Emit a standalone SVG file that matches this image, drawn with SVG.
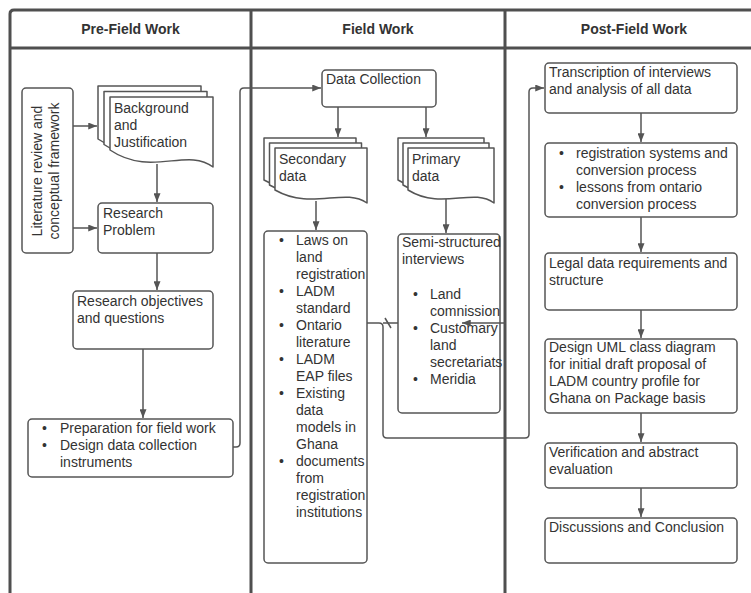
<svg xmlns="http://www.w3.org/2000/svg" width="751" height="593" viewBox="0 0 751 593">
<defs>
<style>
.lane{fill:none;stroke:#4f4f4f;stroke-width:3}
.box{fill:#fff;stroke:#555;stroke-width:1.5}
.doc{fill:#fff;stroke:#555;stroke-width:1.5;stroke-linejoin:round}
.t{font-family:"Liberation Sans",Arial,sans-serif;font-size:14px;fill:#333}
.h{font-family:"Liberation Sans",Arial,sans-serif;font-size:14px;font-weight:bold;fill:#333}
.c{fill:none;stroke:#555;stroke-width:1.5;stroke-linejoin:round}
</style>
<marker id="ah" viewBox="0 0 10 8" markerWidth="9" markerHeight="7" refX="10" refY="4" orient="auto" markerUnits="userSpaceOnUse">
<path d="M0,0 L10,4 L0,8 Z" fill="#555"/>
</marker>
</defs>
<rect width="751" height="593" fill="#fff"/>
<g id="lanes">
<path class="lane" d="M10,593 V14 Q10,10 14,10 H751"/>
<path class="lane" d="M10,48 H751"/>
<path class="lane" d="M251,10 V593"/>
<path class="lane" d="M505,10 V593"/>
<text class="h" x="130.5" y="34" text-anchor="middle">Pre-Field Work</text>
<text class="h" x="378" y="34" text-anchor="middle">Field Work</text>
<text class="h" x="634" y="34" text-anchor="middle">Post-Field Work</text>
</g>
<g id="connectors">
<path class="c" d="M73,126 H97" marker-end="url(#ah)"/>
<path class="c" d="M73,228 H97" marker-end="url(#ah)"/>
<path class="c" d="M157,164 V202" marker-end="url(#ah)"/>
<path class="c" d="M157,253 V290" marker-end="url(#ah)"/>
<path class="c" d="M143,349 V418" marker-end="url(#ah)"/>
<path class="c" d="M233,447 H236 Q240,447 240,443 V92 Q240,88 244,88 H321" marker-end="url(#ah)"/>
<path class="c" d="M338,107 V137" marker-end="url(#ah)"/>
<path class="c" d="M426,107 V137" marker-end="url(#ah)"/>
<path class="c" d="M316,201 V230" marker-end="url(#ah)"/>
<path class="c" d="M446,199 V233" marker-end="url(#ah)"/>
<path class="c" d="M367,323 H379 Q383,323 383,327 V434 Q383,438 387,438 H525 Q529,438 529,434 V92 Q529,88 533,88 H544" marker-end="url(#ah)"/>
<path class="c" d="M383,323 H398"/>
<path class="c" d="M385,318 L391,328"/>
<path class="c" d="M641,113 V142" marker-end="url(#ah)"/>
<path class="c" d="M641,217 V252" marker-end="url(#ah)"/>
<path class="c" d="M641,310 V338" marker-end="url(#ah)"/>
<path class="c" d="M641,413 V442" marker-end="url(#ah)"/>
<path class="c" d="M641,488 V517" marker-end="url(#ah)"/>
</g>
<g id="literature">
<rect class="box" x="22" y="88" width="51" height="165" rx="4"/>
<text class="t" transform="translate(42,171) rotate(-90)" text-anchor="middle">Literature review and</text>
<text class="t" transform="translate(59,171) rotate(-90)" text-anchor="middle">conceptual framework</text>
</g>
<g id="background">
<path class="doc" d="M98,86 H201 V156 C175,136 139,166.5 98,139 Z"/>
<path class="doc" d="M104,91.5 H207 V161.5 C181,141.5 145,172 104,144.5 Z"/>
<path class="doc" d="M110,97 H213 V167 C187,147 151,177.5 110,150 Z"/>
<text class="t" x="114" y="113">Background</text>
<text class="t" x="114" y="130">and</text>
<text class="t" x="114" y="147">Justification</text>
</g>
<g id="research-problem">
<rect class="box" x="98" y="203" width="115" height="50" rx="4"/>
<text class="t" x="103" y="218">Research</text>
<text class="t" x="103" y="235">Problem</text>
</g>
<g id="objectives">
<rect class="box" x="73" y="291" width="140" height="58" rx="4"/>
<text class="t" x="77" y="306">Research objectives</text>
<text class="t" x="77" y="323">and questions</text>
</g>
<g id="preparation">
<rect class="box" x="28" y="419" width="205" height="58" rx="4"/>
<text class="t" x="42" y="433">•</text>
<text class="t" x="60" y="433">Preparation for field work</text>
<text class="t" x="42" y="450">•</text>
<text class="t" x="60" y="450">Design data collection</text>
<text class="t" x="60" y="467">instruments</text>
</g>
<g id="data-collection">
<rect class="box" x="322" y="70" width="114" height="37" rx="4"/>
<text class="t" x="326" y="84">Data Collection</text>
</g>
<g id="secondary-data">
<path class="doc" d="M264,138 H356 V193 C333,177 301,201 264,180 Z"/>
<path class="doc" d="M269.5,143 H361.5 V198 C338.5,182 306.5,206 269.5,185 Z"/>
<path class="doc" d="M275,148 H367 V203 C344,187 312,211 275,190 Z"/>
<text class="t" x="279" y="164">Secondary</text>
<text class="t" x="279" y="181">data</text>
</g>
<g id="primary-data">
<path class="doc" d="M398,138 H484 V193 C462.5,177 432.4,201 398,180 Z"/>
<path class="doc" d="M403,143 H489 V198 C467.5,182 437.4,206 403,185 Z"/>
<path class="doc" d="M408,148 H494 V203 C472.5,187 442.4,211 408,190 Z"/>
<text class="t" x="412" y="164">Primary</text>
<text class="t" x="412" y="181">data</text>
</g>
<g id="secondary-list">
<rect class="box" x="264" y="231" width="103" height="332" rx="4"/>
<g class="t">
<text x="279" y="245">•</text><text x="296" y="245">Laws on</text>
<text x="296" y="262">land</text>
<text x="296" y="279">registration</text>
<text x="279" y="296">•</text><text x="296" y="296">LADM</text>
<text x="296" y="313">standard</text>
<text x="279" y="330">•</text><text x="296" y="330">Ontario</text>
<text x="296" y="347">literature</text>
<text x="279" y="364">•</text><text x="296" y="364">LADM</text>
<text x="296" y="381">EAP files</text>
<text x="279" y="398">•</text><text x="296" y="398">Existing</text>
<text x="296" y="415">data</text>
<text x="296" y="432">models in</text>
<text x="296" y="449">Ghana</text>
<text x="279" y="466">•</text><text x="296" y="466">documents</text>
<text x="296" y="483">from</text>
<text x="296" y="500">registration</text>
<text x="296" y="517">institutions</text>
</g>
</g>
<g id="semi-structured">
<rect class="box" x="398" y="234" width="102" height="179" rx="4"/>
<g class="t">
<text x="402" y="247">Semi-structured</text>
<text x="402" y="264">interviews</text>
<text x="413" y="299">•</text><text x="430" y="299">Land</text>
<text x="430" y="316">comnission</text>
<text x="413" y="333">•</text><text x="430" y="333">Customary</text>
<text x="430" y="350">land</text>
<text x="430" y="367">secretariats</text>
<text x="413" y="384">•</text><text x="430" y="384">Meridia</text>
</g>
<path class="c" d="M506,323 H462" marker-end="url(#ah)"/>
</g>
<g id="transcription">
<rect class="box" x="545" y="63" width="192" height="50" rx="4"/>
<text class="t" x="549" y="77">Transcription of interviews</text>
<text class="t" x="549" y="94">and analysis of all data</text>
</g>
<g id="registration">
<rect class="box" x="545" y="143" width="192" height="74" rx="4"/>
<text class="t" x="559" y="158">•</text><text class="t" x="576" y="158">registration systems and</text>
<text class="t" x="576" y="175">conversion process</text>
<text class="t" x="559" y="192">•</text><text class="t" x="576" y="192">lessons from ontario</text>
<text class="t" x="576" y="209">conversion process</text>
</g>
<g id="legal">
<rect class="box" x="545" y="253" width="192" height="57" rx="4"/>
<text class="t" x="549" y="268">Legal data requirements and</text>
<text class="t" x="549" y="285">structure</text>
</g>
<g id="design">
<rect class="box" x="545" y="339" width="192" height="74" rx="4"/>
<text class="t" x="549" y="352">Design UML class diagram</text>
<text class="t" x="549" y="369">for initial draft proposal of</text>
<text class="t" x="549" y="386">LADM country profile for</text>
<text class="t" x="549" y="403">Ghana on Package basis</text>
</g>
<g id="verification">
<rect class="box" x="545" y="443" width="192" height="45" rx="4"/>
<text class="t" x="549" y="457">Verification and abstract</text>
<text class="t" x="549" y="474">evaluation</text>
</g>
<g id="discussions">
<rect class="box" x="545" y="518" width="192" height="45" rx="4"/>
<text class="t" x="549" y="532">Discussions and Conclusion</text>
</g>
</svg>
